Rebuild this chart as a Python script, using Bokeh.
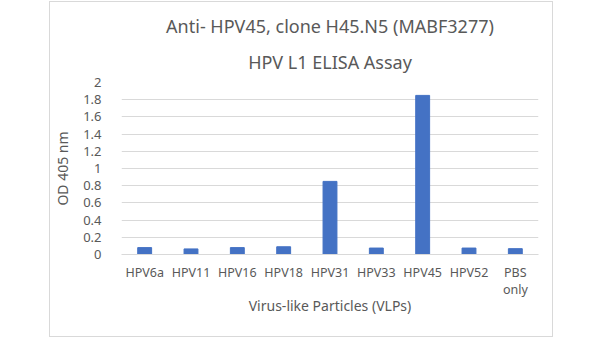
from bokeh.plotting import figure
from bokeh.models import Title, FactorRange
from bokeh.embed import file_html
from bokeh.resources import INLINE

categories = ["HPV6a", "HPV11", "HPV16", "HPV18", "HPV31", "HPV33", "HPV45", "HPV52", "PBS\nonly"]
od405 = [0.08, 0.065, 0.08, 0.09, 0.85, 0.075, 1.85, 0.075, 0.068]
y_ticks = [0, 0.2, 0.4, 0.6, 0.8, 1, 1.2, 1.4, 1.6, 1.8, 2]
title_lines = ["Anti- HPV45, clone H45.N5 (MABF3277)", "HPV L1 ELISA Assay"]

FONT = "Noto Sans"
GRAY = "#595959"

p = figure(x_range=FactorRange(*categories, range_padding=0), y_range=(0, 2),
           width=504, height=336, output_backend="svg", toolbar_location=None,
           min_border_left=70, min_border_right=16, min_border_bottom=84, min_border_top=80)
p.margin = (1, 0, 0, 49)
p.styles = {"border": "1px solid #d9d9d9"}

p.vbar(x=categories, top=od405, width=0.3, color="#4472C4")

p.outline_line_color = None
p.xgrid.grid_line_color = None
p.ygrid.grid_line_color = "#d9d9d9"
p.ygrid.ticker = y_ticks
p.yaxis.ticker = y_ticks
p.yaxis.major_label_overrides = {0: "0", 1: "1", 2: "2"}
p.yaxis.axis_line_color = None
p.yaxis.major_tick_line_color = None
p.yaxis.minor_tick_line_color = None
p.yaxis.major_label_text_font = FONT
p.yaxis.major_label_text_font_size = "13px"
p.yaxis.major_label_text_color = GRAY
p.yaxis.major_label_standoff = 14
p.yaxis.axis_label = "OD 405 nm"
p.yaxis.axis_label_text_font = FONT
p.yaxis.axis_label_text_font_size = "14px"
p.yaxis.axis_label_text_font_style = "normal"
p.yaxis.axis_label_text_color = GRAY
p.yaxis.axis_label_standoff = 8

p.xaxis.axis_line_color = "#d9d9d9"
p.xaxis.major_tick_line_color = None
p.xaxis.minor_tick_line_color = None
p.xaxis.major_label_text_font = FONT
p.xaxis.major_label_text_font_size = "12.5px"
p.xaxis.major_label_text_color = GRAY
p.xaxis.major_label_text_line_height = 1.0
p.xaxis.major_label_standoff = 3
p.xaxis.axis_label = "Virus-like Particles (VLPs)"
p.xaxis.axis_label_text_font = FONT
p.xaxis.axis_label_text_font_size = "14px"
p.xaxis.axis_label_text_font_style = "normal"
p.xaxis.axis_label_text_color = GRAY
p.xaxis.axis_label_standoff = -5

p.title = Title(text=title_lines[0], align="center", text_font=FONT,
                text_font_size="18px", text_font_style="normal", text_color=GRAY,
                standoff=2, offset=-28)
p.add_layout(Title(text=title_lines[1], align="center", text_font=FONT,
                   text_font_size="18px", text_font_style="normal", text_color=GRAY,
                   standoff=18, offset=-28), "above")

open("out.html", "w").write(file_html(p, INLINE))
